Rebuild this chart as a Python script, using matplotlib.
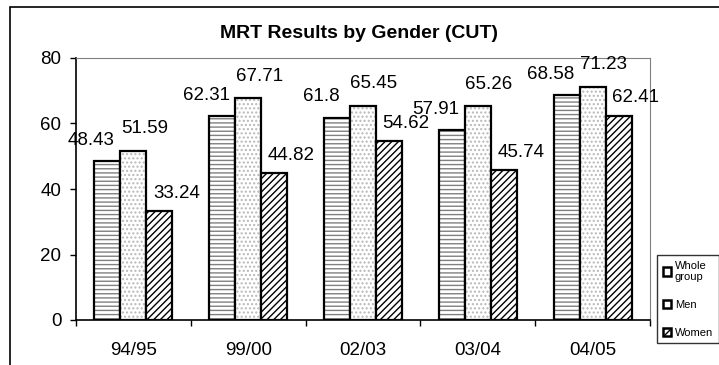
import numpy as np
import matplotlib.pyplot as plt
from matplotlib.patches import Patch, Rectangle

plt.rcParams['font.family'] = ['Liberation Sans', 'DejaVu Sans']

years = ['94/95', '99/00', '02/03', '03/04', '04/05']
whole_group = [48.43, 62.31, 61.8, 57.91, 68.58]
men = [51.59, 67.71, 65.45, 65.26, 71.23]
women = [33.24, 44.82, 54.62, 45.74, 62.41]

# name, values, hatch, hatch colour, label shift (px), label lift (pt)
series = [
    ('Whole\ngroup', whole_group, '----', '#808080', -16, 15),
    ('Men', men, '....', '#b8b8b8', 11, 16),
    ('Women', women, '/////', 'black', 17, 13),
]

fig = plt.figure(figsize=(7.19, 3.65), dpi=100)
ax = fig.add_axes([76 / 719, 45 / 365, 574 / 719, 262 / 365])

x = np.arange(len(years))
w = 0.226
for i, (name, vals, hatch, hcol, dx, dy) in enumerate(series):
    pos = x + (i - 1) * w
    ax.bar(pos, vals, w, color='white', edgecolor=hcol, hatch=hatch, lw=0)
    ax.bar(pos, vals, w, fill=False, edgecolor='black', lw=1.6)
    for p, v in zip(pos, vals):
        ax.annotate(f'{v:g}', (p, v), xytext=(dx * 0.72, dy), textcoords='offset points',
                    ha='center', va='center', fontsize=13.5)

ax.set_xlim(-0.5, 4.5)
ax.set_ylim(0, 80)
ax.set_yticks([0, 20, 40, 60, 80])
ax.tick_params(axis='y', direction='out', length=4.5, width=1, pad=6, labelsize=13.5)
ax.set_xticks(x)
ax.set_xticklabels(years)
ax.set_xticks(np.arange(-0.5, 5, 1), minor=True)
ax.tick_params(axis='x', which='major', length=0, pad=16, labelsize=13.5)
ax.tick_params(axis='x', which='minor', direction='out', length=4.5, width=1)
for s in ['top', 'right']:
    ax.spines[s].set_color('#808080')
for s in ['left', 'bottom']:
    ax.spines[s].set_linewidth(1.2)

fig.text(0.5, 1 - 33 / 365, 'MRT Results by Gender (CUT)', ha='center', va='center',
         fontsize=14, fontweight='bold')

handles = [Patch(facecolor='white', edgecolor='black', hatch=h if h == '/////' else None, lw=1.8)
           for _, _, h, _, _, _ in series]
leg = fig.legend(handles, [s[0] for s in series], loc='upper left',
                 bbox_to_anchor=(657 / 719, 1 - 255 / 365), fontsize=8,
                 frameon=True, fancybox=False, edgecolor='black',
                 handlelength=0.8, handleheight=0.8, handletextpad=0.3,
                 labelspacing=1.6, borderpad=0.5, borderaxespad=0)
leg.get_frame().set_linewidth(1)

fig.add_artist(Rectangle((10 / 719, -0.1), 2, 1 - 7 / 365 + 0.1, transform=fig.transFigure,
                         fill=False, lw=1.2, ec='black'))

fig.savefig('out.png', dpi=100)
